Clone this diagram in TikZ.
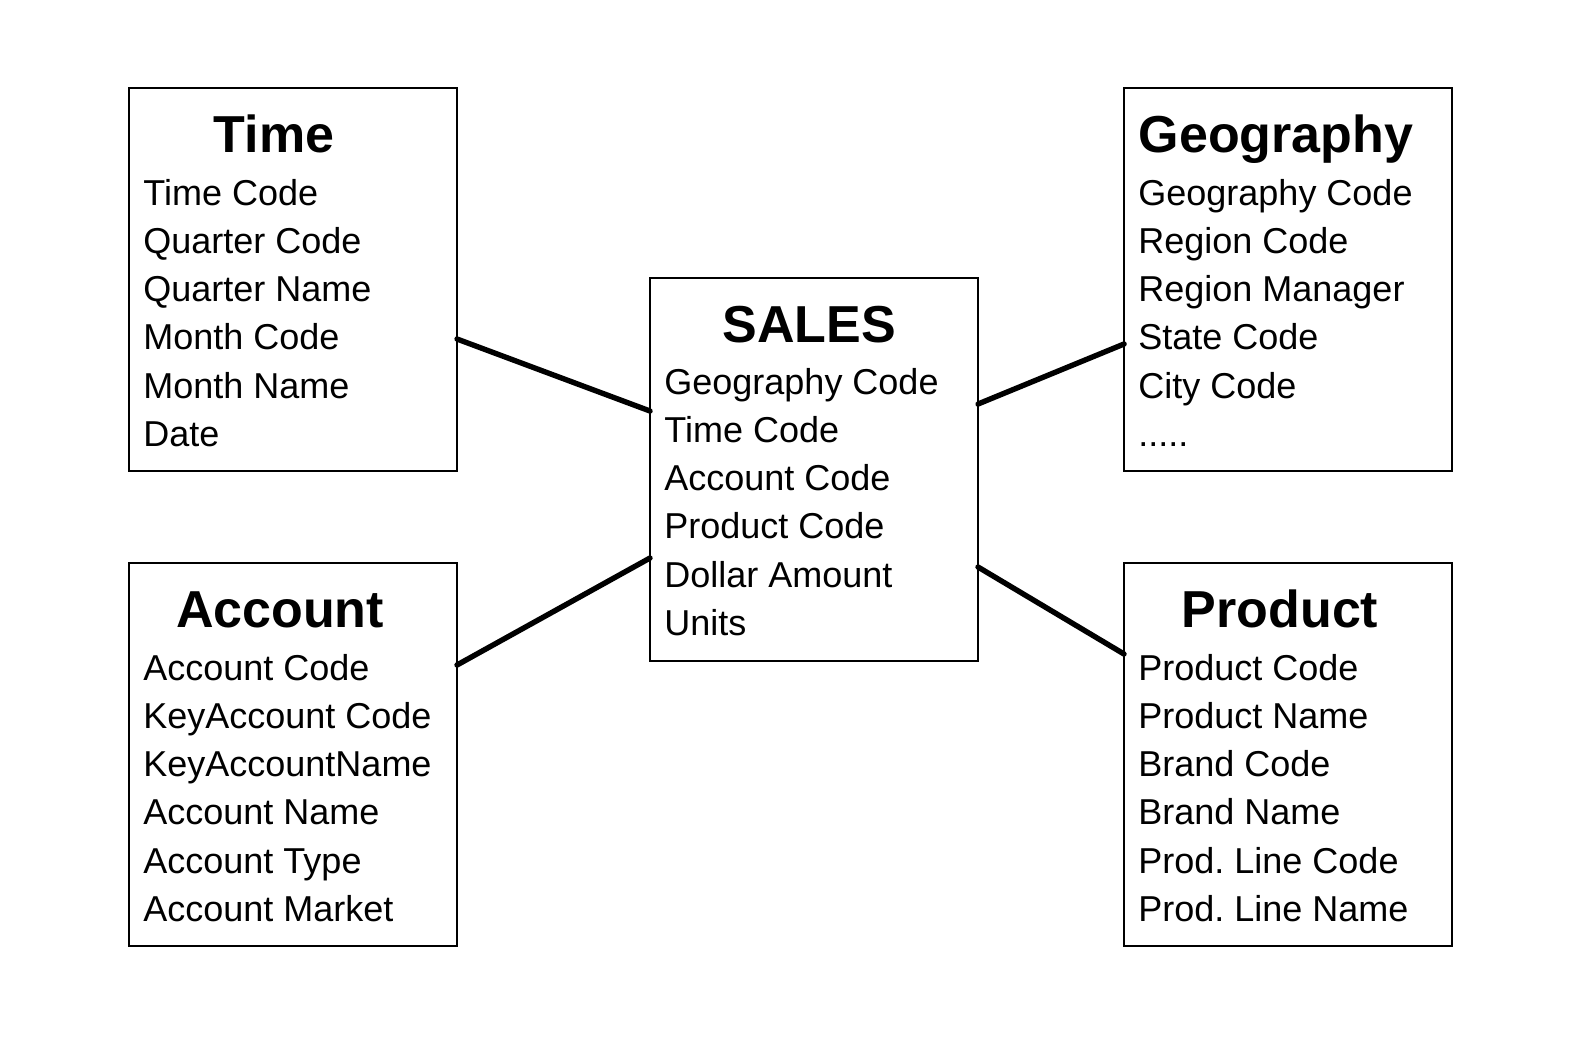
\documentclass[tikz,border=0pt]{standalone}
\usepackage{fontspec}
\setmainfont{Liberation Sans}
\usetikzlibrary{calc}
\frenchspacing

\begin{document}
\begin{tikzpicture}[x=0.5pt, y=-0.5pt,
  tbl/.style={draw, line width=0.8pt, anchor=north west, inner sep=0pt,
    outer sep=0pt, minimum width=164pt, minimum height=191.5pt},
  ttl/.style={anchor=base, inner sep=0pt, font=\fontsize{26}{30}\selectfont\bfseries},
  fld/.style={anchor=base west, inner sep=0pt, font=\fontsize{18}{22}\selectfont},
  link/.style={line width=2.7pt, line cap=round}]
  \useasboundingbox (0,0) rectangle (1588,1056);
  % Fact table in the middle, four dimension tables round it.
  \node[tbl] (sales) at (650,278) {};
  \node[tbl] (time) at (129,88) {};
  \node[tbl] (geo) at (1124,88) {};
  \node[tbl] (account) at (129,563) {};
  \node[tbl] (product) at (1124,563) {};
  % Titles (not quite centred in the source)
  \node[ttl] (sales-t) at ($(sales.north west)+(159,64)$) {SALES};
  \node[ttl] (time-t) at ($(time.north west)+(145,64)$) {Time};
  \node[ttl] (geo-t) at ($(geo.north west)+(152,64)$) {Geography};
  \node[ttl] (account-t) at ($(account.north west)+(151,64)$) {Account};
  \node[ttl] (product-t) at ($(product.north west)+(156,64)$) {Product};
  % Fields, one per line
  \foreach \f [count=\i] in {Geography Code, Time Code, Account Code,
      Product Code, Dollar Amount, Units}
    \node[fld] (sales-\i) at ($(sales.north west)+(14,{116+48.3*(\i-1)})$) {\f};
  \foreach \f [count=\i] in {Time Code, Quarter Code, Quarter Name,
      Month Code, Month Name, Date}
    \node[fld] (time-\i) at ($(time.north west)+(14,{117+48.3*(\i-1)})$) {\f};
  \foreach \f [count=\i] in {Geography Code, Region Code, Region Manager,
      State Code, City Code, {.\relax.\relax.\relax.\relax.}}
    \node[fld] (geo-\i) at ($(geo.north west)+(14,{117+48.3*(\i-1)})$) {\f};
  \foreach \f [count=\i] in {Account Code, KeyAccount Code, KeyAccountName,
      Account Name, Account Type, Account Market}
    \node[fld] (account-\i) at ($(account.north west)+(14,{117+48.3*(\i-1)})$) {\f};
  \foreach \f [count=\i] in {Product Code, Product Name, Brand Code,
      Brand Name, Prod. Line Code, Prod. Line Name}
    \node[fld] (product-\i) at ($(product.north west)+(14,{117+48.3*(\i-1)})$) {\f};
  % Joins
  \draw[link] ($(time.north east)+(0,251)$) -- ($(sales.north west)+(0,133)$);
  \draw[link] ($(account.north east)+(0,102)$) -- ($(sales.north west)+(0,280)$);
  \draw[link] ($(sales.north east)+(0,126)$) -- ($(geo.north west)+(0,256)$);
  \draw[link] ($(sales.north east)+(0,289)$) -- ($(product.north west)+(0,91)$);
\end{tikzpicture}
\end{document}
